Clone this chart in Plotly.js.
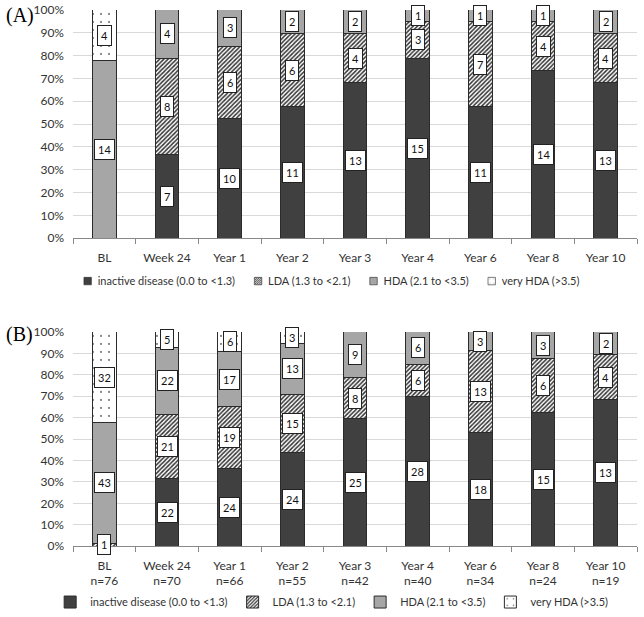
<!DOCTYPE html>
<html>
<head>
<meta charset="utf-8">
<script src="https://cdn.plot.ly/plotly-3.0.1.min.js"></script>
<style>html,body{margin:0;padding:0;background:#fff;}#chart{width:644px;height:617px;}</style>
</head>
<body>
<div id="chart"></div>
<script>
const categories = ["BL","Week 24","Year 1","Year 2","Year 3","Year 4","Year 6","Year 8","Year 10"];
const seriesNames = ["inactive disease (0.0 to <1.3)","LDA (1.3 to <2.1)","HDA (2.1 to <3.5)","very HDA (>3.5)"];

// Panel A counts
const A_inactive = [0,7,10,11,13,15,11,14,13];
const A_LDA      = [0,8,6,6,4,3,7,4,4];
const A_HDA      = [14,4,3,2,2,1,1,1,2];
const A_vHDA     = [4,0,0,0,0,0,0,0,0];

// Panel B counts
const B_inactive = [0,22,24,24,25,28,18,15,13];
const B_LDA      = [1,21,19,15,8,6,13,6,4];
const B_HDA      = [43,22,17,13,9,6,3,3,2];
const B_vHDA     = [32,5,6,3,0,0,0,0,0];
const B_n        = [76,70,66,55,42,40,34,24,19];

const styles = [
  {color:'#404040', pattern:{shape:''}},
  {color:'#ffffff', pattern:{shape:'/', fgcolor:'#333333', bgcolor:'#ffffff', size:3, solidity:0.5}},
  {color:'#a6a6a6', pattern:{shape:''}},
  {color:'#ffffff', pattern:{shape:'.', fgcolor:'#555555', bgcolor:'#ffffff', size:8, solidity:0.04}}
];

const traces = [];
const annotations = [];
function addPanel(series, xa, ya, legendName) {
  const totals = categories.map((c,i)=>series.reduce((s,arr)=>s+arr[i],0));
  const cum = categories.map(()=>0);
  series.forEach((vals, k) => {
    traces.push({
      type:'bar', x:categories, y:vals, name:seriesNames[k],
      xaxis:xa, yaxis:ya, legend:legendName,
      marker:{color:styles[k].color, pattern:styles[k].pattern, line:{color:'#2b2b2b', width:1}},
      hoverinfo:'skip'
    });
    vals.forEach((v,i)=>{
      if (v>0) {
        const mid = (cum[i] + v/2) / totals[i] * 100;
        annotations.push({
          x:categories[i], y:mid, xref:xa, yref:ya, text:String(v), showarrow:false,
          font:{family:'Lato, Open Sans, sans-serif', size:11, color:'#111'},
          bgcolor:'#ffffff', bordercolor:'#222', borderwidth:1, borderpad:3
        });
      }
      cum[i] += v;
    });
  });
}
addPanel([A_inactive,A_LDA,A_HDA,A_vHDA],'x','y','legend');
addPanel([B_inactive,B_LDA,B_HDA,B_vHDA],'x2','y2','legend2');

annotations.push({xref:'paper', yref:'paper', x:0.006, y:1-16/617, xanchor:'left', yanchor:'middle', text:'(A)', showarrow:false, font:{family:'Liberation Serif, serif', size:20, color:'#000'}});
annotations.push({xref:'paper', yref:'paper', x:0.006, y:1-336/617, xanchor:'left', yanchor:'middle', text:'(B)', showarrow:false, font:{family:'Liberation Serif, serif', size:20, color:'#000'}});

const tickFont = {family:'Lato, Open Sans, sans-serif', size:12, color:'#333'};
const xCommon = {type:'category', domain:[73/644, 637/644], showline:true, linecolor:'#888', linewidth:1,
  ticks:'outside', tickson:'boundaries', ticklen:5, tickcolor:'#888', tickfont:tickFont, showgrid:false,
  automargin:false, fixedrange:true, ticklabelstandoff:8};
const yCommon = {range:[0,100], dtick:10, ticksuffix:'%', showgrid:true, gridcolor:'#d9d9d9', gridwidth:1,
  zeroline:false, showline:false, ticks:'', tickfont:tickFont, automargin:false, fixedrange:true, ticklabelstandoff:8};

const legendFont = {family:'Lato, Open Sans, sans-serif', size:11, color:'#333'};
const layout = {
  width:644, height:617, margin:{l:0,r:0,t:0,b:0},
  paper_bgcolor:'#ffffff', plot_bgcolor:'#ffffff',
  barmode:'stack', barnorm:'percent', bargap:0.62,
  xaxis:Object.assign({}, xCommon, {anchor:'y'}),
  yaxis:Object.assign({}, yCommon, {domain:[1-239/617, 1-10/617], anchor:'x'}),
  xaxis2:Object.assign({}, xCommon, {anchor:'y2', tickvals:categories, ticktext:categories.map((c,i)=>c+'<br>n='+B_n[i])}),
  yaxis2:Object.assign({}, yCommon, {domain:[1-548/617, 1-333/617], anchor:'x2'}),
  legend:{orientation:'h', x:0.515, xanchor:'center', y:1-282/617, yanchor:'middle', font:legendFont, itemwidth:30, tracegroupgap:0, traceorder:'normal'},
  legend2:{orientation:'h', x:0.515, xanchor:'center', y:1-604/617, yanchor:'middle', font:legendFont, itemwidth:30, tracegroupgap:0, traceorder:'normal'},
  annotations:annotations,
  showlegend:true
};

// Compact the first legend's entries (small swatch close to its text, like the original)
function compactLegends() {
  const centreX = 331, gap = 18, textX = 15;
  document.querySelectorAll('#chart g.legend').forEach(lg => {
    const items = Array.from(lg.querySelectorAll('g.traces'));
    if (!items.length) return;
    const widths = [];
    let parentOffset = null;
    items.forEach(item => {
      const m = /translate\(\s*([-\d.]+)[ ,]+([-\d.]+)\s*\)/.exec(item.getAttribute('transform') || '');
      const tx = m ? parseFloat(m[1]) : 0;
      if (parentOffset === null) parentOffset = item.getCTM().e - tx;
      item.querySelectorAll('.legendpoints path').forEach(p => {
        p.setAttribute('transform', 'translate(5,0) scale(0.62)');
      });
      const t = item.querySelector('text.legendtext');
      if (t) {
        t.setAttribute('x', textX);
        t.querySelectorAll('tspan').forEach(ts => { if (ts.hasAttribute('x')) ts.setAttribute('x', textX); });
        widths.push(textX + t.getComputedTextLength());
      } else widths.push(textX);
    });
    const total = widths.reduce((a,b)=>a+b,0) + gap*(items.length-1);
    let x = centreX - total/2 - parentOffset;
    items.forEach((item,i) => {
      const m = /translate\(\s*([-\d.]+)[ ,]+([-\d.]+)\s*\)/.exec(item.getAttribute('transform') || '');
      const ty = m ? parseFloat(m[2]) : 0;
      item.setAttribute('transform', 'translate(' + x + ',' + ty + ')');
      x += widths[i] + gap;
    });
  });
}

Plotly.newPlot('chart', traces, layout, {displayModeBar:false, staticPlot:true}).then(compactLegends);
</script>
</body>
</html>
